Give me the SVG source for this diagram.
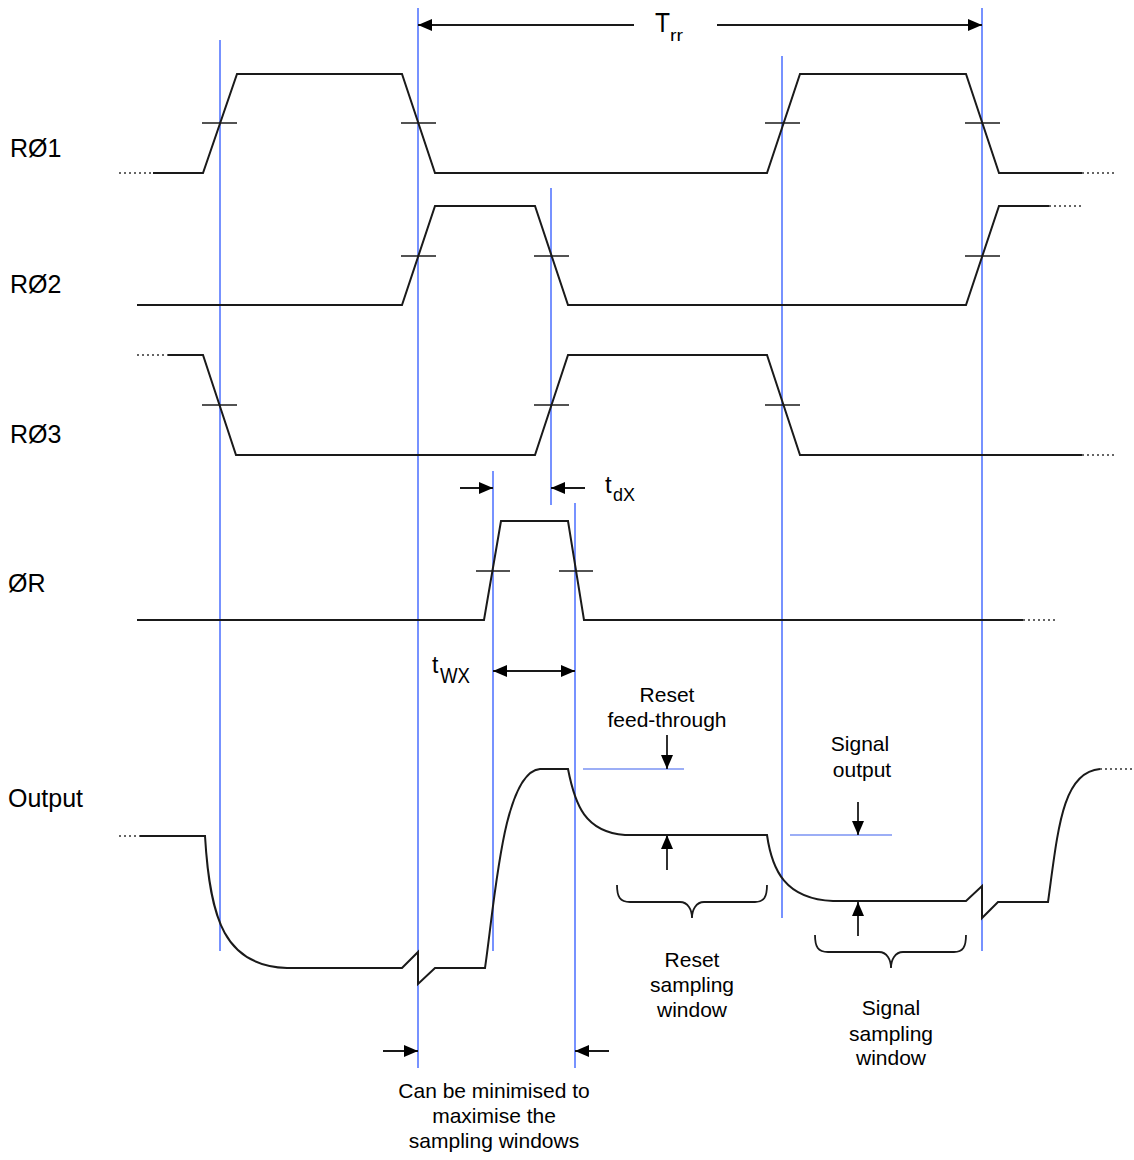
<svg xmlns="http://www.w3.org/2000/svg" width="1134" height="1160" viewBox="0 0 1134 1160">
<style>
.sig{fill:none;stroke:#1a1a1a;stroke-width:2;stroke-linejoin:miter}
.dot{fill:none;stroke:#333;stroke-width:1.6;stroke-dasharray:2 3}
.tick{stroke:#1a1a1a;stroke-width:1.6}
.blue{stroke:#5577ff;stroke-width:1.6}
.blueh{stroke:#3a5fee;stroke-width:1.2}
.arr{fill:none;stroke:#1a1a1a;stroke-width:1.8}
.lbl{font-family:"Liberation Sans",Arial,sans-serif;font-size:25px;fill:#000}
.txt{font-family:"Liberation Sans",Arial,sans-serif;font-size:21px;fill:#000;text-anchor:middle}
.sym{font-family:"Liberation Sans",Arial,sans-serif;fill:#000}
</style>
<defs>
<marker id="ah" viewBox="0 0 14 12" refX="14" refY="6" markerWidth="14" markerHeight="12" markerUnits="userSpaceOnUse" orient="auto-start-reverse">
<path d="M0,0 L14,6 L0,12 z" fill="#000"/>
</marker>
</defs>
<rect width="1134" height="1160" fill="#fff"/>

<g id="labels">
<text class="lbl" x="10" y="157">RØ1</text>
<text class="lbl" x="10" y="293">RØ2</text>
<text class="lbl" x="10" y="443">RØ3</text>
<text class="lbl" x="8" y="592">ØR</text>
<text class="lbl" x="8" y="807">Output</text>
</g>

<g id="connectors">
<line class="blue" x1="220" y1="40" x2="220" y2="951"/>
<line class="blue" x1="418" y1="8" x2="418" y2="1068"/>
<line class="blue" x1="551" y1="188" x2="551" y2="505"/>
<line class="blue" x1="493" y1="471" x2="493" y2="951"/>
<line class="blue" x1="575" y1="503" x2="575" y2="1068"/>
<line class="blue" x1="782" y1="56" x2="782" y2="918"/>
<line class="blue" x1="982" y1="8" x2="982" y2="951"/>
<line class="blueh" x1="583" y1="769" x2="684" y2="769"/>
<line class="blueh" x1="790" y1="835" x2="892" y2="835"/>

<line class="arr" x1="634" y1="25" x2="418" y2="25" marker-end="url(#ah)"/>
<line class="arr" x1="717" y1="25" x2="982" y2="25" marker-end="url(#ah)"/>
<line class="arr" x1="460" y1="488" x2="493" y2="488" marker-end="url(#ah)"/>
<line class="arr" x1="585" y1="488" x2="551" y2="488" marker-end="url(#ah)"/>
<line class="arr" x1="493" y1="671" x2="575" y2="671" marker-start="url(#ah)" marker-end="url(#ah)"/>
<line class="arr" x1="667" y1="735" x2="667" y2="769" marker-end="url(#ah)"/>
<line class="arr" x1="667" y1="870" x2="667" y2="835" marker-end="url(#ah)"/>
<line class="arr" x1="858" y1="802" x2="858" y2="835" marker-end="url(#ah)"/>
<line class="arr" x1="858" y1="936" x2="858" y2="902" marker-end="url(#ah)"/>
<line class="arr" x1="383" y1="1051" x2="418" y2="1051" marker-end="url(#ah)"/>
<line class="arr" x1="609" y1="1051" x2="575" y2="1051" marker-end="url(#ah)"/>
<path class="arr" d="M617,885 C617,897 620,902 630,902 L680,902 C688,902 692,910 692,918 C692,910 696,902 704,902 L755,902 C764,902 767,897 767,885"/>
<path class="arr" d="M815,935 C815,947 818,952 828,952 L879,952 C887,952 891,960 891,968 C891,960 895,952 903,952 L954,952 C963,952 966,947 966,935"/>
</g>

<g id="R1">
<line class="dot" x1="119" y1="173" x2="153" y2="173"/>
<path class="sig" d="M153,173 L203,173 L237,74 L402,74 L435,173 L767,173 L800,74 L966,74 L999,173 L1082,173"/>
<line class="dot" x1="1082" y1="173" x2="1116" y2="173"/>
<line class="tick" x1="202" y1="123" x2="237" y2="123"/>
<line class="tick" x1="401" y1="123" x2="436" y2="123"/>
<line class="tick" x1="765" y1="123" x2="800" y2="123"/>
<line class="tick" x1="965" y1="123" x2="1000" y2="123"/>
</g>

<g id="R2">
<path class="sig" d="M137,305 L402,305 L435,206 L535,206 L568,305 L966,305 L999,206 L1049,206"/>
<line class="dot" x1="1049" y1="206" x2="1083" y2="206"/>
<line class="tick" x1="401" y1="256" x2="436" y2="256"/>
<line class="tick" x1="534" y1="256" x2="569" y2="256"/>
<line class="tick" x1="965" y1="256" x2="1000" y2="256"/>
</g>

<g id="R3">
<line class="dot" x1="137" y1="355" x2="168" y2="355"/>
<path class="sig" d="M168,355 L203,355 L236,455 L535,455 L568,355 L767,355 L800,455 L1082,455"/>
<line class="dot" x1="1082" y1="455" x2="1116" y2="455"/>
<line class="tick" x1="202" y1="405" x2="237" y2="405"/>
<line class="tick" x1="534" y1="405" x2="569" y2="405"/>
<line class="tick" x1="765" y1="405" x2="800" y2="405"/>
</g>

<g id="PhiR">
<path class="sig" d="M137,620 L484,620 L501,521 L568,521 L584,620 L1023,620"/>
<line class="dot" x1="1023" y1="620" x2="1057" y2="620"/>
<line class="tick" x1="476" y1="571" x2="510" y2="571"/>
<line class="tick" x1="559" y1="571" x2="593" y2="571"/>
</g>

<g id="Output">
<line class="dot" x1="119" y1="836" x2="140" y2="836"/>
<path class="sig" d="M140,836 L205,836 C210,920 225,966 287,968 L402,968 L418,952 L418,984 L435,968 L485,968 C495,900 503,772 540,769 L568,769 C575,805 585,832 625,835 L767,835 C772,870 785,899 833,901 L966,901 L982,886 L982,918 L998,902 L1048,902 C1058,830 1062,772 1100,769"/>
<line class="dot" x1="1100" y1="769" x2="1133" y2="769"/>
</g>

<g id="annotations">
<text class="sym" x="655" y="32" font-size="28" textLength="15" lengthAdjust="spacingAndGlyphs">T</text>
<text class="sym" x="670" y="41" font-size="16" textLength="13" lengthAdjust="spacingAndGlyphs">rr</text>
<text class="sym" x="605" y="493" font-size="24">t</text>
<text class="sym" x="613" y="501" font-size="18" textLength="22" lengthAdjust="spacingAndGlyphs">dX</text>
<text class="sym" x="432" y="673" font-size="23">t</text>
<text class="sym" x="440" y="683" font-size="22" textLength="30" lengthAdjust="spacingAndGlyphs">WX</text>
<text class="txt" x="667" y="702">Reset</text>
<text class="txt" x="667" y="727">feed-through</text>
<text class="txt" x="860" y="751">Signal</text>
<text class="txt" x="862" y="777">output</text>
<text class="txt" x="692" y="967">Reset</text>
<text class="txt" x="692" y="992">sampling</text>
<text class="txt" x="692" y="1017">window</text>
<text class="txt" x="891" y="1015">Signal</text>
<text class="txt" x="891" y="1041">sampling</text>
<text class="txt" x="891" y="1065">window</text>
<text class="txt" x="494" y="1098">Can be minimised to</text>
<text class="txt" x="494" y="1123">maximise the</text>
<text class="txt" x="494" y="1148">sampling windows</text>
</g>
</svg>
